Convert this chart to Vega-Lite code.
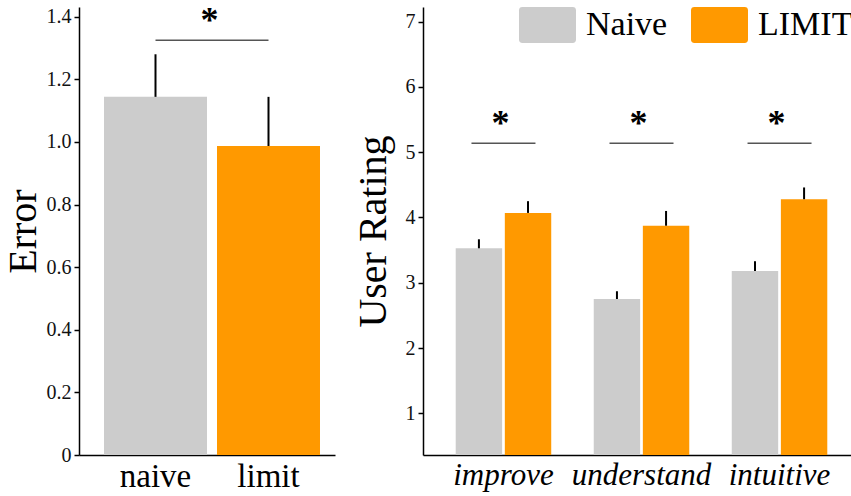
{
  "$schema": "https://vega.github.io/schema/vega-lite/v6.json",
  "padding": {"left": 3, "top": 2, "right": 0, "bottom": 0},
  "background": "white",
  "bounds": "flush",
  "spacing": 88,
  "config": {
    "view": {"stroke": null},
    "font": "Liberation Serif",
    "axis": {
      "domainColor": "black", "domainWidth": 1.5,
      "tickColor": "black", "tickWidth": 1.5, "tickSize": 5,
      "labelFont": "Liberation Serif", "labelFontSize": 20, "labelColor": "#111", "labelPadding": 3,
      "grid": false,
      "titleFont": "Liberation Serif", "titleFontWeight": "normal", "titleFontSize": 40, "titleColor": "black"
    }
  },
  "resolve": {"scale": {"color": "independent", "x": "independent", "y": "independent"}},
  "hconcat": [
    {
      "width": 256,
      "height": 448,
      "layer": [
        {
          "data": {"values": [
            {"cond": "naive", "error": 1.144, "upper": 1.28},
            {"cond": "limit", "error": 0.987, "upper": 1.144}
          ]},
          "layer": [
            {
              "mark": {"type": "bar", "clip": true},
              "encoding": {
                "x": {"field": "cond", "type": "nominal",
                  "scale": {"domain": ["naive", "limit"], "paddingInner": 0.0885, "paddingOuter": 0.177, "align": 0.625},
                  "axis": {"title": null, "ticks": false, "labelAngle": 0, "labelFont": "Liberation Serif", "labelFontSize": 33, "labelPadding": 5, "labelColor": "black"}},
                "y": {"field": "error", "type": "quantitative",
                  "scale": {"domain": [0, 1.431], "nice": false},
                  "axis": {"title": "Error", "titlePadding": 3, "values": [0, 0.2, 0.4, 0.6, 0.8, 1.0, 1.2, 1.4],
                    "labelFont": "Liberation Serif", "labelFontSize": 20,
                    "labelExpr": "datum.value == 0 ? '0' : format(datum.value, '.1f')"}},
                "color": {"field": "cond", "type": "nominal",
                  "scale": {"domain": ["naive", "limit"], "range": ["#cccccc", "#ff9900"]}, "legend": null}
              }
            },
            {
              "mark": {"type": "rule", "color": "black", "strokeWidth": 2},
              "encoding": {
                "x": {"field": "cond", "type": "nominal", "scale": {"domain": ["naive", "limit"]}},
                "y": {"field": "error", "type": "quantitative"},
                "y2": {"field": "upper"}
              }
            }
          ]
        },
        {
          "data": {"values": [{"from": "naive", "to": "limit", "y": 1.325, "sy": 1.387, "label": "*"}]},
          "layer": [
            {
              "mark": {"type": "rule", "color": "#555555", "strokeWidth": 1.5},
              "encoding": {
                "x": {"field": "from", "type": "nominal", "scale": {"domain": ["naive", "limit"]}},
                "x2": {"field": "to"},
                "y": {"field": "y", "type": "quantitative"}
              }
            },
            {
              "mark": {"type": "text", "fontSize": 36, "fontWeight": "bold", "baseline": "middle", "dx": 54, "color": "black"},
              "encoding": {
                "x": {"field": "from", "type": "nominal", "scale": {"domain": ["naive", "limit"]}},
                "y": {"field": "sy", "type": "quantitative"},
                "text": {"field": "label"}
              }
            }
          ]
        }
      ]
    },
    {
      "width": 437,
      "height": 448,
      "layer": [
        {
          "data": {"values": [
            {"q": "improve", "method": "Naive", "rating": 3.528, "upper": 3.666},
            {"q": "improve", "method": "LIMIT", "rating": 4.07, "upper": 4.25},
            {"q": "understand", "method": "Naive", "rating": 2.751, "upper": 2.87},
            {"q": "understand", "method": "LIMIT", "rating": 3.874, "upper": 4.1},
            {"q": "intuitive", "method": "Naive", "rating": 3.18, "upper": 3.33},
            {"q": "intuitive", "method": "LIMIT", "rating": 4.28, "upper": 4.46}
          ]},
          "layer": [
            {
              "mark": {"type": "bar", "clip": true},
              "encoding": {
                "x": {"field": "q", "type": "nominal",
                  "scale": {"domain": ["improve", "understand", "intuitive"], "paddingInner": 0.308, "paddingOuter": 0.237},
                  "axis": {"title": null, "ticks": false, "labelAngle": 0, "labelFont": "Liberation Serif", "labelFontSize": 31, "labelFontStyle": "italic", "labelPadding": 5, "labelColor": "black"}},
                "xOffset": {"field": "method", "type": "nominal",
                  "scale": {"domain": ["Naive", "LIMIT"], "paddingInner": 0.055, "paddingOuter": 0}},
                "y": {"field": "rating", "type": "quantitative",
                  "scale": {"domain": [0.361, 7.225], "nice": false, "zero": false},
                  "axis": {"title": "User Rating", "titlePadding": 12, "values": [1, 2, 3, 4, 5, 6, 7], "format": "d",
                    "labelFont": "Liberation Serif", "labelFontSize": 20}},
                "color": {"field": "method", "type": "nominal",
                  "scale": {"domain": ["Naive", "LIMIT"], "range": ["#cccccc", "#ff9900"]},
                  "legend": {
                    "orient": "none", "legendX": 106.5, "legendY": 0, "direction": "horizontal", "title": null,
                    "symbolType": "M-1.393,-1H1.393Q1.583,-1 1.583,-0.81V0.81Q1.583,1 1.393,1H-1.393Q-1.583,1 -1.583,0.81V-0.81Q-1.583,-1 -1.393,-1Z",
                    "symbolSize": 1296, "symbolStrokeWidth": 0, "symbolOpacity": 1,
                    "labelFont": "Liberation Serif", "labelFontSize": 34, "labelColor": "black", "labelOffset": 20.5,
                    "columnPadding": 23, "labelLimit": 300
                  }}
              }
            },
            {
              "mark": {"type": "rule", "color": "black", "strokeWidth": 2},
              "encoding": {
                "x": {"field": "q", "type": "nominal", "scale": {"domain": ["improve", "understand", "intuitive"]}},
                "xOffset": {"field": "method", "type": "nominal", "scale": {"domain": ["Naive", "LIMIT"]}},
                "y": {"field": "rating", "type": "quantitative"},
                "y2": {"field": "upper"}
              }
            }
          ]
        },
        {
          "data": {"values": [
            {"q": "improve", "y": 5.137, "sy": 5.436, "label": "*"},
            {"q": "understand", "y": 5.137, "sy": 5.436, "label": "*"},
            {"q": "intuitive", "y": 5.137, "sy": 5.436, "label": "*"}
          ]},
          "layer": [
            {
              "mark": {"type": "tick", "orient": "horizontal", "size": 64, "thickness": 1.5, "color": "#555555", "opacity": 1},
              "encoding": {
                "x": {"field": "q", "type": "nominal", "scale": {"domain": ["improve", "understand", "intuitive"]}},
                "y": {"field": "y", "type": "quantitative"}
              }
            },
            {
              "mark": {"type": "text", "fontSize": 36, "fontWeight": "bold", "baseline": "middle", "dx": -3, "color": "black"},
              "encoding": {
                "x": {"field": "q", "type": "nominal", "scale": {"domain": ["improve", "understand", "intuitive"]}},
                "y": {"field": "sy", "type": "quantitative"},
                "text": {"field": "label"}
              }
            }
          ]
        }
      ]
    }
  ]
}
